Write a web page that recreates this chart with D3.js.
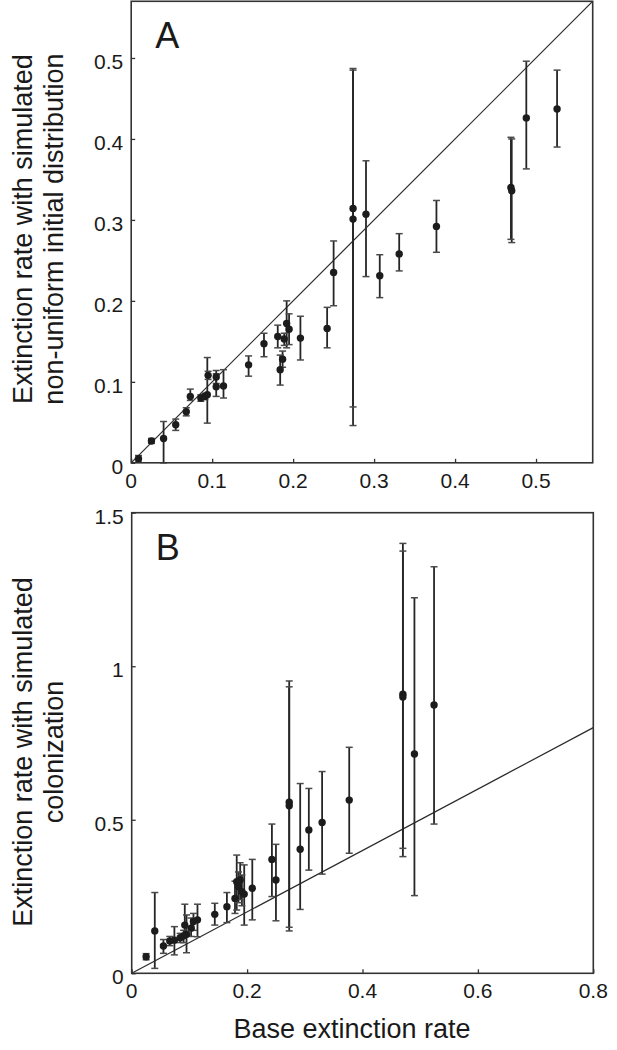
<!DOCTYPE html>
<html>
<head>
<meta charset="utf-8">
<script src="https://cdn.jsdelivr.net/npm/d3@7"></script>
<style>
  html, body { margin: 0; padding: 0; background: #fff; }
  svg { display: block; }
  text { font-family: "Liberation Sans", Arial, Helvetica, sans-serif; fill: #1a1a1a; }
</style>
</head>
<body>
<svg id="chart" width="617" height="1050"></svg>
<script>
// ---------- Panel A data: base rate vs non-uniform initial distribution ----------
const xA  = [0.009, 0.025, 0.040, 0.055, 0.068, 0.073, 0.086, 0.091, 0.094, 0.095, 0.105, 0.105, 0.114, 0.145, 0.164, 0.181, 0.184, 0.187, 0.189, 0.192, 0.195, 0.209, 0.242, 0.250, 0.274, 0.274, 0.290, 0.307, 0.331, 0.377, 0.469, 0.470, 0.488, 0.526];
const yA  = [0.005, 0.027, 0.030, 0.047, 0.063, 0.082, 0.080, 0.082, 0.084, 0.108, 0.106, 0.094, 0.095, 0.121, 0.147, 0.156, 0.115, 0.128, 0.153, 0.172, 0.165, 0.154, 0.166, 0.235, 0.314, 0.301, 0.307, 0.231, 0.258, 0.292, 0.340, 0.336, 0.426, 0.437];
const loA = [0.001, 0.024, 0.000, 0.040, 0.058, 0.077, 0.076, 0.078, 0.049, 0.103, 0.098, 0.082, 0.080, 0.107, 0.131, 0.142, 0.096, 0.118, 0.145, 0.142, 0.146, 0.127, 0.142, 0.194, 0.069, 0.046, 0.230, 0.204, 0.237, 0.260, 0.276, 0.272, 0.363, 0.390];
const hiA = [0.009, 0.030, 0.051, 0.054, 0.068, 0.091, 0.084, 0.086, 0.130, 0.113, 0.114, 0.110, 0.115, 0.132, 0.160, 0.170, 0.133, 0.138, 0.160, 0.200, 0.184, 0.181, 0.192, 0.274, 0.487, 0.485, 0.373, 0.257, 0.283, 0.324, 0.402, 0.400, 0.496, 0.485];

// ---------- Panel B data: base rate vs simulated colonization ----------
const xB  = [0.025, 0.040, 0.055, 0.066, 0.074, 0.084, 0.090, 0.092, 0.095, 0.103, 0.107, 0.114, 0.144, 0.165, 0.179, 0.182, 0.185, 0.188, 0.191, 0.195, 0.209, 0.243, 0.250, 0.273, 0.273, 0.292, 0.307, 0.330, 0.377, 0.470, 0.470, 0.490, 0.524];
const yB  = [0.054, 0.138, 0.089, 0.105, 0.108, 0.116, 0.122, 0.157, 0.127, 0.147, 0.169, 0.174, 0.192, 0.217, 0.244, 0.298, 0.282, 0.304, 0.266, 0.258, 0.277, 0.371, 0.304, 0.557, 0.546, 0.404, 0.467, 0.491, 0.564, 0.909, 0.900, 0.714, 0.874];
const loB = [0.044, 0.016, 0.065, 0.090, 0.060, 0.100, 0.100, 0.119, 0.067, 0.120, 0.140, 0.119, 0.157, 0.165, 0.195, 0.206, 0.230, 0.240, 0.220, 0.157, 0.174, 0.250, 0.171, 0.138, 0.150, 0.208, 0.336, 0.323, 0.391, 0.407, 0.380, 0.253, 0.486];
const hiB = [0.064, 0.263, 0.110, 0.120, 0.152, 0.130, 0.140, 0.225, 0.190, 0.180, 0.195, 0.225, 0.228, 0.263, 0.300, 0.385, 0.330, 0.360, 0.320, 0.353, 0.371, 0.486, 0.420, 0.952, 0.933, 0.618, 0.602, 0.657, 0.736, 1.400, 1.375, 1.223, 1.324];

// ---------- ticks and labels ----------
const xTicksA = [0, 0.1, 0.2, 0.3, 0.4, 0.5];
const yTicksA = [0, 0.1, 0.2, 0.3, 0.4, 0.5];
const xTicksB = [0, 0.2, 0.4, 0.6, 0.8];
const yTicksB = [0, 0.5, 1, 1.5];
const yLabelA = ["Extinction rate with simulated", "non-uniform initial distribution"];
const yLabelB = ["Extinction rate with simulated", "colonization"];
const xLabel = "Base extinction rate";

const svg = d3.select("#chart");
const fmt = d => (d === 0 ? "0" : String(d));

function panel(cfg) {
  const { left, right, top, bottom, xDomain, yDomain, xs, ys, lo, hi, xTicks, yTicks, letter, yLabel, lineEnd, labelShift } = cfg;
  const x = d3.scaleLinear().domain(xDomain).range([left, right]);
  const y = d3.scaleLinear().domain(yDomain).range([bottom, top]);
  const g = svg.append("g");

  const clipId = "clip" + letter;
  svg.append("clipPath").attr("id", clipId).append("rect")
    .attr("x", left).attr("y", top).attr("width", right - left).attr("height", bottom - top);

  // identity line
  g.append("line")
    .attr("clip-path", `url(#${clipId})`)
    .attr("x1", x(0)).attr("y1", y(0))
    .attr("x2", x(lineEnd)).attr("y2", y(lineEnd))
    .attr("stroke", "#2a2a2a").attr("stroke-width", 1.2);

  const data = xs.map((v, i) => ({ x: v, y: ys[i], lo: lo[i], hi: hi[i] }));

  // error bars
  const eb = g.append("g");
  eb.selectAll("line.v").data(data).join("line")
    .attr("x1", d => x(d.x)).attr("x2", d => x(d.x))
    .attr("y1", d => y(d.lo)).attr("y2", d => y(d.hi))
    .attr("stroke", "#262626").attr("stroke-width", 1.8);
  eb.selectAll("line.t").data(data).join("line")
    .attr("x1", d => x(d.x) - 3.5).attr("x2", d => x(d.x) + 3.5)
    .attr("y1", d => y(d.hi)).attr("y2", d => y(d.hi))
    .attr("stroke", "#4a4a4a").attr("stroke-width", 1.5);
  eb.selectAll("line.b").data(data).join("line")
    .attr("x1", d => x(d.x) - 3.5).attr("x2", d => x(d.x) + 3.5)
    .attr("y1", d => y(d.lo)).attr("y2", d => y(d.lo))
    .attr("stroke", "#4a4a4a").attr("stroke-width", 1.5);

  // points
  g.append("g").selectAll("circle").data(data).join("circle")
    .attr("cx", d => x(d.x)).attr("cy", d => y(d.y)).attr("r", 3.7)
    .attr("fill", "#1c1c1c");

  // frame
  g.append("rect")
    .attr("x", left).attr("y", top).attr("width", right - left).attr("height", bottom - top)
    .attr("fill", "none").attr("stroke", "#333").attr("stroke-width", 1.6);

  // axes (ticks inward)
  const xAxis = g.append("g").attr("transform", `translate(0,${bottom})`)
    .call(d3.axisTop(x).tickValues(xTicks).tickSize(4).tickFormat(""));
  const yAxis = g.append("g").attr("transform", `translate(${left},0)`)
    .call(d3.axisRight(y).tickValues(yTicks).tickSize(4).tickFormat(""));
  [xAxis, yAxis].forEach(a => {
    a.select(".domain").remove();
    a.selectAll(".tick line").attr("stroke", "#333").attr("stroke-width", 1.3);
  });

  // tick labels
  g.append("g").selectAll("text").data(xTicks).join("text")
    .attr("x", d => x(d)).attr("y", bottom + 25)
    .attr("text-anchor", "middle").attr("font-size", 21)
    .text(fmt);
  g.append("g").selectAll("text").data(yTicks).join("text")
    .attr("x", left - 8).attr("y", d => y(d) + 11)
    .attr("text-anchor", "end").attr("font-size", 21)
    .text(fmt);

  // panel letter
  g.append("text").attr("x", left + 24).attr("y", top + 47)
    .attr("font-size", 36).text(letter);

  // y label
  const cy = (top + bottom) / 2 + labelShift;
  yLabel.forEach((t, i) => {
    g.append("text")
      .attr("transform", `translate(${32 + i * 31},${cy}) rotate(-90)`)
      .attr("text-anchor", "middle").attr("font-size", 27)
      .text(t);
  });
  return { x, y };
}

panel({
  left: 131.2, right: 592.7, top: 1.3, bottom: 462.8,
  xDomain: [0, 0.57], yDomain: [0, 0.57],
  xs: xA, ys: yA, lo: loA, hi: hiA,
  xTicks: xTicksA, yTicks: yTicksA, letter: "A", yLabel: yLabelA, lineEnd: 0.57, labelShift: -3
});

panel({
  left: 131.7, right: 593.3, top: 512.7, bottom: 973.3,
  xDomain: [0, 0.8], yDomain: [0, 1.5],
  xs: xB, ys: yB, lo: loB, hi: hiB,
  xTicks: xTicksB, yTicks: yTicksB, letter: "B", yLabel: yLabelB, lineEnd: 0.8, labelShift: 9
});

svg.append("text")
  .attr("x", 352).attr("y", 1038)
  .attr("text-anchor", "middle").attr("font-size", 27)
  .text(xLabel);
</script>
</body>
</html>
